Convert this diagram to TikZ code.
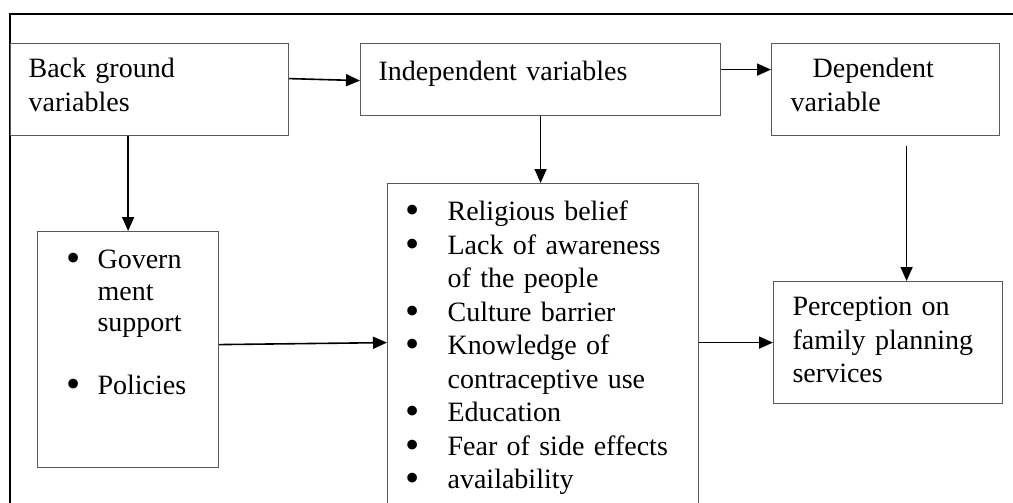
\documentclass[tikz,border=0pt]{standalone}
\usepackage{fontspec}
\setmainfont{Liberation Serif}
\usetikzlibrary{arrows.meta}
\newcommand\boxfont{\fontsize{28}{33.5}\selectfont}
\newcommand\bul[1]{\makebox[#1][l]{\raisebox{-3pt}{\scalebox{1.45}{\textbullet}}}}
\hyphenpenalty=10000
\begin{document}
\begin{tikzpicture}
    [
    x=1pt,y=-1pt,
    block/.style={draw=black!65,line width=1.2pt,anchor=north west,align=left,inner ysep=0pt,font=\boxfont},
    flow/.style={line width=1.6pt,-{Triangle[length=14pt,width=12pt]}}
    ]
    \useasboundingbox (0,0) rectangle (1013,503);
    \clip (0,0) rectangle (1013,503);
    \draw [line width=2pt] (1013,14) -| (10,503);
    \node (bg) at (10,43) [block,inner xsep=18pt,text width=242pt,text height=34pt,text depth=58pt] {Back ground\\variables};
    \node (indep) at (360,43) [block,inner xsep=18pt,text width=324pt,text height=37pt,text depth=35pt] {Independent variables};
    \node (dep) at (771,43) [block,inner xsep=19pt,text width=190pt,text height=34pt,text depth=58pt] {\hspace*{22pt}Dependent\\variable};
    \node (gov) at (37,231) [block,inner xsep=29pt,text width=123pt,text height=37pt,text depth=199pt,font=\fontsize{28}{31.5}\selectfont]
      {\bul{31pt}Govern\\\hspace*{31pt}ment\\\hspace*{31pt}support\\[31.5pt]\bul{31pt}Policies};
    \node (fac) at (387,183) [block,inner xsep=18pt,text width=275pt,text height=37pt,text depth=340pt]
      {\bul{42pt}Religious belief\\
       \bul{42pt}Lack of awareness\\
       \hspace*{42pt}of the people\\
       \bul{42pt}Culture barrier\\
       \bul{42pt}Knowledge of\\
       \hspace*{42pt}contraceptive use\\
       \bul{42pt}Education\\
       \bul{42pt}Fear of side effects\\
       \bul{42pt}availability};
    \node (perc) at (773,281) [block,inner xsep=19pt,text width=191pt,text height=34pt,text depth=88pt] {Perception on\\family planning\\services};
    \draw [flow] ([yshift=11pt]bg.east) -- ([yshift=-1pt]indep.west);
    \draw [flow] ([yshift=10pt]indep.east) -- ([yshift=20pt]dep.west);
    \draw [flow] (bg.south -| gov.north) -- (gov.north);
    \draw [flow] (indep.south) -- (indep.south |- fac.north);
    \coordinate (depout) at ([xshift=21pt,yshift=-10pt]dep.south);
    \draw [flow] (depout) -- (depout |- perc.north);
    \draw [flow] ([yshift=5pt]gov.east) -- ([yshift=7pt]gov.east -| fac.west);
    \draw [flow] (fac.east |- perc.west) -- (perc.west);
\end{tikzpicture}
\end{document}
